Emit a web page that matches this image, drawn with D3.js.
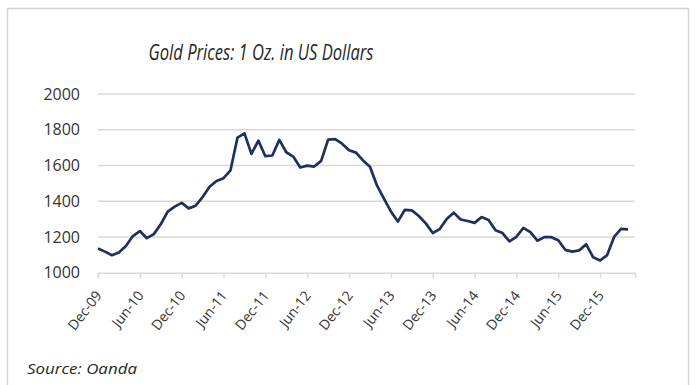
<!DOCTYPE html>
<html>
<head>
<meta charset="utf-8">
<script src="https://cdn.jsdelivr.net/npm/d3@7"></script>
<style>
  body { margin: 0; background: #fff; }
  svg { display: block; }
</style>
</head>
<body>
<div class="svg"></div>
<script>
const width = 696
const height = 385

// monthly prices, Dec-09 .. Apr-16
const months = [
  'Dec-09', 'Jan-10', 'Feb-10', 'Mar-10', 'Apr-10', 'May-10', 'Jun-10', 'Jul-10', 'Aug-10', 'Sep-10', 'Oct-10', 'Nov-10',
  'Dec-10', 'Jan-11', 'Feb-11', 'Mar-11', 'Apr-11', 'May-11', 'Jun-11', 'Jul-11', 'Aug-11', 'Sep-11', 'Oct-11', 'Nov-11',
  'Dec-11', 'Jan-12', 'Feb-12', 'Mar-12', 'Apr-12', 'May-12', 'Jun-12', 'Jul-12', 'Aug-12', 'Sep-12', 'Oct-12', 'Nov-12',
  'Dec-12', 'Jan-13', 'Feb-13', 'Mar-13', 'Apr-13', 'May-13', 'Jun-13', 'Jul-13', 'Aug-13', 'Sep-13', 'Oct-13', 'Nov-13',
  'Dec-13', 'Jan-14', 'Feb-14', 'Mar-14', 'Apr-14', 'May-14', 'Jun-14', 'Jul-14', 'Aug-14', 'Sep-14', 'Oct-14', 'Nov-14',
  'Dec-14', 'Jan-15', 'Feb-15', 'Mar-15', 'Apr-15', 'May-15', 'Jun-15', 'Jul-15', 'Aug-15', 'Sep-15', 'Oct-15', 'Nov-15',
  'Dec-15', 'Jan-16', 'Feb-16', 'Mar-16', 'Apr-16'
]
const prices = [
  1135, 1118, 1098, 1113, 1149, 1205, 1233, 1193, 1216, 1271, 1342, 1370,
  1391, 1360, 1375, 1423, 1481, 1513, 1529, 1573, 1756, 1780, 1665, 1739,
  1652, 1656, 1743, 1674, 1650, 1589, 1599, 1594, 1626, 1745, 1747, 1722,
  1685, 1672, 1628, 1593, 1488, 1414, 1343, 1286, 1352, 1349, 1317, 1276,
  1222, 1244, 1300, 1336, 1298, 1289, 1279, 1311, 1295, 1237, 1222, 1175,
  1201, 1251, 1227, 1179, 1199, 1199, 1182, 1128, 1118, 1125, 1159, 1086,
  1068, 1098, 1200, 1245, 1242
]
const xTickLabels = ['Dec-09', 'Jun-10', 'Dec-10', 'Jun-11', 'Dec-11', 'Jun-12', 'Dec-12',
  'Jun-13', 'Dec-13', 'Jun-14', 'Dec-14', 'Jun-15', 'Dec-15']
const yTicks = [1000, 1200, 1400, 1600, 1800, 2000]

const svg = d3
  .select('.svg')
  .append('svg')
  .attr('width', width)
  .attr('height', height)

// chart frame
svg
  .append('rect')
  .attr('x', 7.5)
  .attr('y', 8.5)
  .attr('width', 681)
  .attr('height', 400)
  .attr('fill', '#fff')
  .attr('stroke', '#d4d4d4')
  .attr('stroke-width', 1.5)

const xScale = d3.scaleLinear().domain([0, 77]).range([98, 635])
const yScale = d3.scaleLinear().domain([1000, 2000]).range([272.7, 94])

// gridlines
svg
  .append('g')
  .selectAll('line')
  .data(yTicks.slice(1))
  .enter()
  .append('line')
  .attr('x1', xScale(0))
  .attr('x2', xScale(77))
  .attr('y1', d => yScale(d))
  .attr('y2', d => yScale(d))
  .attr('stroke', '#d9d9d9')
  .attr('stroke-width', 1.5)

// y axis labels
const yAxis = d3
  .axisLeft(yScale)
  .tickValues(yTicks)
  .tickSize(0)
  .tickPadding(18)
  .tickFormat(d3.format('d'))
const gy = svg
  .append('g')
  .attr('transform', 'translate(' + xScale(0) + ', 0)')
  .call(yAxis)
gy.select('.domain').remove()
gy.selectAll('text')
  .attr('font-family', 'Open Sans, sans-serif')
  .attr('font-size', 16)
  .attr('fill', '#333')

// x axis
const tickIdx = xTickLabels.map(l => months.indexOf(l))
const xAxis = d3
  .axisBottom(xScale)
  .tickValues(tickIdx)
  .tickSize(5)
  .tickFormat(d => months[d])
const gx = svg
  .append('g')
  .attr('transform', 'translate(0, ' + yScale(1000) + ')')
  .call(xAxis)
gx.select('.domain').attr('stroke', '#d9d9d9').attr('stroke-width', 1.5)
gx.selectAll('.tick line').attr('stroke', '#d9d9d9').attr('stroke-width', 1.5)
gx.selectAll('text')
  .attr('font-family', 'Open Sans, sans-serif')
  .attr('font-size', 14)
  .attr('fill', '#333')
  .attr('text-anchor', 'end')
  .attr('y', 0)
  .attr('dy', 0)
  .attr('transform', 'translate(4, 23) rotate(-52)')

// price line
const line = d3
  .line()
  .x((d, i) => xScale(i))
  .y(d => yScale(d))

svg
  .append('path')
  .datum(prices)
  .attr('d', line)
  .attr('fill', 'none')
  .attr('stroke', '#1f2f5f')
  .attr('stroke-width', 2.7)
  .attr('stroke-linejoin', 'round')

// title
svg
  .append('text')
  .attr('x', 261)
  .attr('y', 60)
  .attr('text-anchor', 'middle')
  .attr('font-family', 'Open Sans, sans-serif')
  .attr('font-style', 'italic')
  .attr('font-size', 21)
  .attr('fill', '#262626')
  .attr('textLength', 225)
  .attr('lengthAdjust', 'spacingAndGlyphs')
  .text('Gold Prices: 1 Oz. in US Dollars')

// source note
svg
  .append('text')
  .attr('x', 27)
  .attr('y', 374)
  .attr('font-family', 'Open Sans, sans-serif')
  .attr('font-style', 'italic')
  .attr('font-size', 15)
  .attr('fill', '#262626')
  .attr('textLength', 110)
  .attr('lengthAdjust', 'spacingAndGlyphs')
  .text('Source: Oanda')
</script>
</body>
</html>
